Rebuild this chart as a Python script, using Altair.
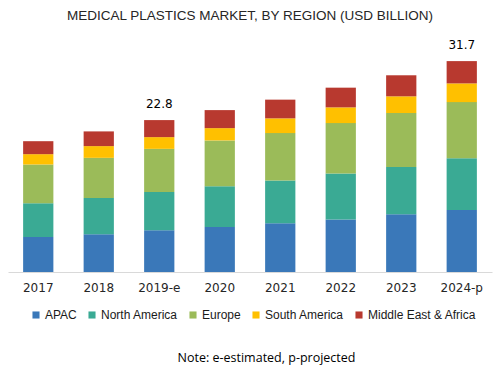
import altair as alt
import pandas as pd

years = ["2017", "2018", "2019-e", "2020", "2021", "2022", "2023", "2024-p"]
regions = ["APAC", "North America", "Europe", "South America", "Middle East & Africa"]
apac = [5.26, 5.67, 6.27, 6.77, 7.34, 7.89, 8.69, 9.30]
north_america = [5.07, 5.46, 5.76, 6.12, 6.42, 6.92, 7.07, 7.77]
europe = [5.82, 6.02, 6.47, 6.87, 7.11, 7.56, 8.12, 8.45]
south_america = [1.55, 1.76, 1.76, 1.85, 2.21, 2.36, 2.51, 2.81]
middle_east_africa = [1.95, 2.21, 2.56, 2.71, 2.81, 2.96, 3.16, 3.35]
total_labels = ["", "", "22.8", "", "", "", "", "31.7"]
colors = ["#3a78b9", "#3aaa94", "#9bbb59", "#ffc000", "#b8392f"]

series = [apac, north_america, europe, south_america, middle_east_africa]
rows = []
for ri, (reg, vals) in enumerate(zip(regions, series)):
    for y, v in zip(years, vals):
        rows.append({"year": y, "region": reg, "value": v, "order": ri})
df = pd.DataFrame(rows)

totals = pd.DataFrame({
    "year": years,
    "total": [sum(s[i] for s in series) for i in range(len(years))],
    "label": total_labels,
})

x_enc = alt.X(
    "year:N",
    sort=years,
    scale=alt.Scale(paddingInner=0.5, paddingOuter=0.25),
    axis=alt.Axis(
        title="Note: e-estimated, p-projected",
        titleFont="Open Sans",
        titleFontSize=12.5,
        titleFontWeight="normal",
        titleColor="#000000",
        titlePadding=58,
        titleX=258,
        titleAlign="center",
        labelAngle=0,
        labelFont="DejaVu Sans",
        labelFontSize=12,
        labelColor="#262626",
        labelPadding=10,
        ticks=False,
        domainColor="#d9d9d9",
        domainWidth=1,
        grid=False,
    ),
)

bars = alt.Chart(df).mark_bar().encode(
    x=x_enc,
    y=alt.Y("value:Q", stack="zero", scale=alt.Scale(domain=[0, 35]), axis=None),
    color=alt.Color(
        "region:N",
        scale=alt.Scale(domain=regions, range=colors),
        legend=alt.Legend(
            title=None,
            orient="none",
            legendX=22,
            legendY=270,
            direction="horizontal",
            columns=5,
            symbolType="square",
            symbolSize=50,
            symbolStrokeWidth=0,
            labelFont="Liberation Sans",
            labelFontSize=12,
            labelColor="#1a1a1a",
            labelOffset=3,
            columnPadding=9,
        ),
    ),
    order=alt.Order("order:Q", sort="ascending"),
)

labels = alt.Chart(totals).mark_text(
    baseline="bottom", dy=-9, font="DejaVu Sans", fontSize=12, color="#000000"
).encode(
    x=alt.X("year:N", sort=years),
    y=alt.Y("total:Q"),
    text="label:N",
)

chart = alt.layer(bars, labels).properties(
    width=484,
    height=233,
    autosize=alt.AutoSizeParams(type="none"),
    padding={"left": 0, "top": 31, "right": 3, "bottom": 94},
    title=alt.TitleParams(
        "MEDICAL PLASTICS MARKET, BY REGION (USD BILLION)",
        font="Liberation Sans",
        fontSize=13.5,
        fontWeight="normal",
        color="#262626",
        anchor="middle",
        offset=17,
    ),
).configure_view(stroke=None)

chart.save("out.html", embed_options={"renderer": "svg", "actions": False})
